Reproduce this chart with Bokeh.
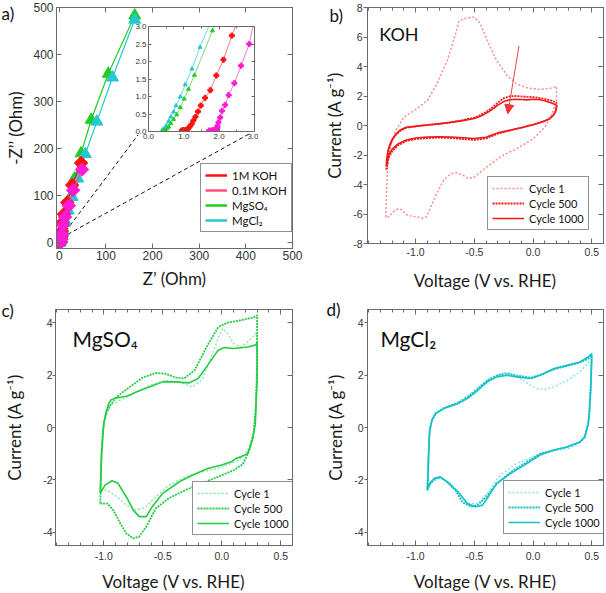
import numpy as np
from bokeh.plotting import figure
from bokeh.layouts import column, row
from bokeh.models import (Range1d, LinearAxis, SingleIntervalTicker, FixedTicker,
                          PrintfTickFormatter, Legend, LegendItem, Label, Arrow, NormalHead)
from bokeh.embed import file_html
from bokeh.resources import INLINE

# ---------------- data: panel a (Nyquist) ----------------
koh1_zre = [0.94, 0.99, 1.03, 1.08, 1.13, 1.16, 1.22, 1.27, 1.33, 1.40, 1.48, 1.60, 1.75, 1.92, 2.12, 2.36,
            3.6, 4.6, 5.6, 6.4, 10.0, 17.0, 27.5, 46.6]
koh1_zim = [0.03, 0.04, 0.03, 0.04, 0.10, 0.13, 0.21, 0.31, 0.42, 0.57, 0.74, 0.96, 1.18, 1.60, 2.05, 2.74,
            6, 12, 24, 42, 60, 85, 122, 169]
koh01_zre = [1.72, 1.79, 1.84, 1.89, 1.93, 1.95, 1.95, 1.98, 2.03, 2.08, 2.17, 2.27, 2.43, 2.62, 2.85,
             4.0, 5.5, 7.9, 12.2, 20.5, 29.7, 48.7]
koh01_zim = [0.03, 0.03, 0.04, 0.04, 0.06, 0.10, 0.16, 0.26, 0.40, 0.59, 0.76, 1.04, 1.38, 1.88, 2.50,
             8, 18, 37, 54, 78, 111, 155]
mgso4_zre = [0.42, 0.47, 0.52, 0.57, 0.63, 0.71, 0.80, 0.90, 1.01, 1.13, 1.30, 1.81, 2.6, 4.0, 7.0, 11, 17,
             24, 32.5, 46.6, 68.5, 105, 161.7]
mgso4_zim = [0.02, 0.04, 0.08, 0.13, 0.23, 0.35, 0.48, 0.69, 0.93, 1.21, 1.61, 2.88, 5, 10, 22, 42, 68,
             97, 136, 189.5, 261, 359, 483]
mgcl2_zre = [0.38, 0.42, 0.50, 0.57, 0.63, 0.71, 0.78, 0.90, 1.04, 1.23, 1.46, 2.2, 3.3, 5.5, 9, 13, 19,
             27.5, 39.5, 55.8, 80.5, 114, 161.7]
mgcl2_zim = [0.02, 0.07, 0.16, 0.29, 0.42, 0.56, 0.74, 0.99, 1.34, 1.79, 2.41, 4.2, 7, 13, 24, 45, 68,
             97, 136, 188, 257, 351, 474]
nyq_names = ["1M KOH", "0.1M KOH", "MgSO\u2084", "MgCl\u2082"]
zoom_line1_x = [5, 169]
zoom_line1_y = [12, 229]
zoom_line2_x = [5, 409]
zoom_line2_y = [10, 232]

# ---------------- data: panel b (KOH) ----------------
koh_c1_v = [-1.255, -1.246, -1.235, -1.21, -1.17, -1.1, -0.99, -0.9, -0.82, -0.73, -0.66, -0.63, -0.56,
            -0.5, -0.45, -0.39, -0.31, -0.22, -0.14, -0.05, 0.06, 0.15, 0.2,
            0.2, 0.17, 0.15, 0.1, 0.06, 0.0, -0.05, -0.14, -0.2, -0.28, -0.36, -0.45, -0.5, -0.55, -0.59,
            -0.65, -0.7, -0.76, -0.82, -0.87, -0.91, -0.94, -0.98, -1.03, -1.08, -1.12, -1.15, -1.19,
            -1.23, -1.255]
koh_c1_i = [-6.2, -4.2, -2.4, -1.25, -0.34, 0.56, 1.13, 1.69, 2.82, 4.4, 6.2, 7.1, 7.3,
            7.35, 6.9, 5.76, 4.4, 3.39, 2.82, 2.55, 2.44, 2.53, 2.64,
            1.7, 1.0, 0.56, -0.1, -0.45, -0.9, -1.15, -1.58, -1.8, -2.14, -2.6, -3.16, -3.5, -3.6, -3.4,
            -3.2, -3.27, -3.7, -4.6, -5.5, -6.2, -6.3, -6.2, -6.15, -6.05, -5.7, -5.65, -5.85,
            -6.2, -6.2]
koh_c500_v = [-1.25, -1.245, -1.235, -1.22, -1.2, -1.17, -1.13, -1.08, -1.0, -0.9, -0.8, -0.7, -0.6, -0.5,
              -0.45, -0.4, -0.35, -0.3, -0.25, -0.2, -0.15, -0.1, -0.05, 0.0, 0.05, 0.1, 0.15, 0.2,
              0.2, 0.19, 0.17, 0.14, 0.1, 0.05, 0.0, -0.1, -0.2, -0.3, -0.35, -0.4, -0.5, -0.6, -0.7,
              -0.8, -0.9, -1.0, -1.08, -1.15, -1.2, -1.23, -1.25]
koh_c500_i = [-3.0, -2.4, -1.85, -1.4, -1.0, -0.65, -0.35, -0.15, -0.05, 0.04, 0.12, 0.22, 0.36, 0.54,
              0.7, 0.92, 1.2, 1.55, 1.85, 1.98, 2.0, 1.97, 1.94, 1.93, 1.88, 1.8, 1.7, 1.55,
              1.3, 0.95, 0.68, 0.47, 0.32, 0.18, 0.06, -0.15, -0.34, -0.55, -0.72, -0.88, -0.98, -0.92,
              -0.85, -0.82, -0.85, -0.92, -1.05, -1.35, -1.75, -2.2, -3.0]
koh_c1000_v = [-1.25, -1.245, -1.235, -1.22, -1.2, -1.17, -1.13, -1.08, -1.0, -0.9, -0.8, -0.7, -0.6, -0.5,
               -0.45, -0.4, -0.35, -0.3, -0.25, -0.2, -0.15, -0.1, -0.05, 0.0, 0.05, 0.1, 0.15, 0.2,
               0.2, 0.19, 0.17, 0.14, 0.1, 0.05, 0.0, -0.1, -0.2, -0.3, -0.35, -0.4, -0.5, -0.6, -0.7,
               -0.8, -0.9, -1.0, -1.08, -1.15, -1.2, -1.23, -1.25]
koh_c1000_i = [-2.75, -2.2, -1.7, -1.3, -0.95, -0.6, -0.3, -0.12, -0.06, 0.03, 0.11, 0.21, 0.33, 0.48,
               0.62, 0.82, 1.08, 1.38, 1.62, 1.75, 1.78, 1.76, 1.74, 1.78, 1.76, 1.68, 1.55, 1.38,
               1.2, 0.9, 0.65, 0.45, 0.3, 0.17, 0.05, -0.15, -0.32, -0.5, -0.65, -0.8, -0.88, -0.83,
               -0.78, -0.76, -0.78, -0.85, -0.98, -1.25, -1.6, -2.0, -2.75]
arrow_v = [-0.12, -0.215]
arrow_i = [5.4, 0.8]

# ---------------- data: panel c (MgSO4) ----------------
mgso4_c1_v = [-1.03, -1.025, -1.02, -1.01, -1.0, -0.97, -0.945, -0.86, -0.75, -0.61, -0.475, -0.34, -0.25,
              -0.17, -0.09, -0.02, 0.01, 0.05, 0.1, 0.16, 0.22, 0.3,
              0.3, 0.29, 0.27, 0.22, 0.16, 0.08, -0.03, -0.17, -0.31, -0.45, -0.56, -0.64, -0.72, -0.81,
              -0.89, -0.97, -1.03]
mgso4_c1_i = [-2.4, -1.7, -1.0, -0.35, 0.15, 0.6, 0.85, 1.04, 1.3, 1.61, 1.8, 1.7, 1.55,
              1.8, 2.69, 3.52, 3.77, 3.58, 3.2, 3.07, 3.26, 3.64,
              2.0, 0.79, -0.23, -0.86, -1.18, -1.37, -1.56, -1.69, -1.88, -2.2, -2.64, -3.02, -3.15, -2.96,
              -2.64, -2.39, -2.4]
mgso4_c500_v = [-1.03, -1.025, -1.02, -1.01, -1.0, -0.98, -0.945, -0.89, -0.78, -0.67, -0.56, -0.475, -0.39,
                -0.32, -0.23, -0.12, -0.03, 0.05, 0.16, 0.27, 0.3,
                0.3, 0.29, 0.27, 0.24, 0.18, 0.1, -0.03, -0.17, -0.31, -0.45, -0.56, -0.64, -0.70, -0.75,
                -0.81, -0.86, -0.92, -0.97, -1.03]
mgso4_c500_i = [-2.9, -1.8, -1.0, -0.3, 0.2, 0.55, 0.85, 1.17, 1.55, 1.9, 2.08, 2.05, 1.9,
                1.87, 2.18, 3.14, 3.83, 4.0, 4.09, 4.2, 4.28,
                2.5, 0.8, -0.2, -0.8, -1.4, -1.63, -1.88, -2.13, -2.39, -2.7, -3.09, -3.78, -4.16, -4.23,
                -4.04, -3.66, -3.15, -2.9, -2.9]
mgso4_c1000_v = [-1.03, -1.025, -1.02, -1.01, -1.0, -0.98, -0.96, -0.94, -0.9, -0.85, -0.8, -0.72, -0.61,
                 -0.5, -0.39, -0.28, -0.2, -0.12, -0.03, 0.02, 0.1, 0.22, 0.29, 0.3,
                 0.3, 0.29, 0.285, 0.26, 0.22, 0.16, 0.12, 0.08, 0.0, -0.12, -0.25, -0.36, -0.5, -0.59,
                 -0.64, -0.70, -0.75, -0.81, -0.88, -0.93, -0.99, -1.03]
mgso4_c1000_i = [-2.5, -1.8, -1.12, -0.4, 0.15, 0.6, 0.9, 1.05, 1.13, 1.16, 1.2, 1.36, 1.55,
                 1.74, 1.74, 1.70, 1.87, 2.37, 2.95, 3.05, 3.01, 3.07, 3.15, 3.25,
                 2.0, 0.79, 0.15, -0.48, -1.0, -1.12, -1.18, -1.31, -1.43, -1.56, -1.82, -2.07, -2.51, -3.02,
                 -3.40, -3.4, -3.15, -2.64, -2.13, -2.03, -2.2, -2.5]

# ---------------- data: panel d (MgCl2) ----------------
mgcl2_c1_v = [-0.9, -0.895, -0.89, -0.885, -0.88, -0.86, -0.82, -0.75, -0.64, -0.56, -0.47, -0.39, -0.28,
              -0.19, -0.11, -0.02, 0.03, 0.1, 0.18, 0.29, 0.4, 0.5,
              0.495, 0.49, 0.48, 0.47, 0.44, 0.38, 0.3, 0.2, 0.1, 0.0, -0.14, -0.28, -0.39, -0.47, -0.55,
              -0.62, -0.7, -0.79, -0.86, -0.9]
mgcl2_c1_i = [-2.3, -1.7, -1.0, -0.4, 0.0, 0.32, 0.56, 0.75, 0.97, 1.2, 1.52, 1.8, 2.03,
              2.06, 1.87, 1.61, 1.49, 1.45, 1.55, 1.8, 2.12, 2.63,
              2.0, 1.42, 0.6, 0.1, -0.4, -0.65, -0.8, -0.86, -0.95, -1.12, -1.37, -1.82, -2.51, -2.9, -2.9,
              -2.58, -2.13, -1.94, -2.07, -2.32]
mgcl2_c500_v = [-0.9, -0.895, -0.89, -0.885, -0.88, -0.86, -0.83, -0.76, -0.64, -0.56, -0.47, -0.39, -0.3,
                -0.22, -0.14, -0.02, 0.06, 0.18, 0.29, 0.4, 0.47, 0.5,
                0.495, 0.49, 0.48, 0.47, 0.44, 0.4, 0.29, 0.18, 0.06, -0.05, -0.19, -0.31, -0.4, -0.47,
                -0.53, -0.6, -0.66, -0.74, -0.79, -0.84, -0.88, -0.9]
mgcl2_c500_i = [-2.4, -1.8, -1.1, -0.5, -0.1, 0.3, 0.55, 0.74, 0.94, 1.15, 1.48, 1.8, 2.0,
                2.07, 1.98, 1.9, 2.0, 2.22, 2.35, 2.48, 2.62, 2.75,
                2.0, 1.42, 0.6, 0.15, -0.36, -0.55, -0.74, -0.86, -1.0, -1.3, -1.7, -2.15, -2.65, -2.95,
                -3.02, -2.85, -2.4, -2.05, -1.9, -1.97, -2.18, -2.4]
mgcl2_c1000_v = [-0.9, -0.895, -0.89, -0.885, -0.88, -0.86, -0.83, -0.76, -0.64, -0.56, -0.47, -0.39, -0.31,
                 -0.22, -0.14, -0.02, 0.06, 0.18, 0.29, 0.4, 0.47, 0.5,
                 0.495, 0.49, 0.48, 0.47, 0.44, 0.4, 0.29, 0.18, 0.06, -0.05, -0.19, -0.31, -0.39, -0.43,
                 -0.49, -0.56, -0.64, -0.73, -0.79, -0.84, -0.88, -0.9]
mgcl2_c1000_i = [-2.36, -1.8, -1.12, -0.5, -0.1, 0.28, 0.53, 0.72, 0.91, 1.1, 1.42, 1.74, 1.93,
                 1.99, 1.93, 1.87, 1.99, 2.25, 2.37, 2.5, 2.69, 2.82,
                 2.0, 1.42, 0.6, 0.15, -0.36, -0.55, -0.74, -0.86, -1.05, -1.37, -1.75, -2.13, -2.7, -2.96,
                 -3.02, -2.9, -2.45, -2.07, -1.88, -1.94, -2.13, -2.36]

cycle_names = ["Cycle 1", "Cycle 500", "Cycle 1000"]
panel_letters = ["a)", "b)", "c)", "d)"]

# ---------------- styling ----------------
TF = "Lato"
NF = "Liberation Sans"
AXC = "#6a6a6a"
LBL = "#333333"


def make_fig(xr, yr, fw, fh, bl, br, bt, bb):
    p = figure(frame_width=fw, frame_height=fh, x_range=Range1d(*xr), y_range=Range1d(*yr),
               output_backend="svg", toolbar_location=None,
               min_border_left=bl, min_border_right=br, min_border_top=bt, min_border_bottom=bb)
    p.xgrid.visible = False
    p.ygrid.visible = False
    p.outline_line_color = AXC
    p.outline_line_width = 1
    p.border_fill_color = "white"
    p.background_fill_color = "white"
    return p


def tick_only_axis(ticker, tin, minor_in):
    return LinearAxis(ticker=ticker, major_label_text_font_size="1px", major_label_text_color=None,
                      major_label_standoff=0,
                      major_tick_in=tin, major_tick_out=0, minor_tick_in=minor_in, minor_tick_out=0,
                      axis_line_color=AXC, major_tick_line_color=AXC, minor_tick_line_color=AXC)


def style_axes(p, xt, yt, xfmt, yfmt, fs, xlabel, ylabel, xlstand, xstand, ylstand, ystand, ytick_out):
    xa = p.xaxis[0]
    ya = p.yaxis[0]
    xa.ticker = xt
    ya.ticker = yt
    xa.formatter = xfmt
    ya.formatter = yfmt
    for a in (xa, ya):
        a.axis_line_color = AXC
        a.major_tick_line_color = AXC
        a.minor_tick_line_color = AXC
        a.major_label_text_font = NF
        a.major_label_text_font_size = fs
        a.major_label_text_color = LBL
        a.axis_label_text_font = TF
        a.axis_label_text_font_style = "normal"
        a.axis_label_text_font_size = "17px"
        a.axis_label_text_color = "#1a1a1a"
    xa.major_tick_in = 5
    xa.major_tick_out = 0
    xa.minor_tick_in = 3
    xa.minor_tick_out = 0
    xa.major_label_standoff = xlstand
    ya.major_tick_in = 0 if ytick_out else 5
    ya.major_tick_out = ytick_out
    ya.minor_tick_in = 0
    ya.minor_tick_out = 0
    ya.major_label_standoff = ylstand
    xa.axis_label = xlabel
    ya.axis_label = ylabel
    xa.axis_label_standoff = xstand
    ya.axis_label_standoff = ystand
    p.add_layout(tick_only_axis(xt, 5, 3), "above")
    p.add_layout(tick_only_axis(yt, 5, 0), "right")


LETTER_SHIFT = 21  # internal left offset of the title inside the small letter figures


def letter_fig(txt, left, top):
    f = figure(width=60, height=30, title=txt, x_range=Range1d(0, 1), y_range=Range1d(0, 1),
               x_axis_type=None, y_axis_type=None, output_backend="svg", toolbar_location=None,
               min_border=0)
    f.xgrid.visible = False
    f.ygrid.visible = False
    f.outline_line_color = None
    f.background_fill_color = None
    f.border_fill_color = None
    f.title.text_font = TF
    f.title.text_font_size = "17px"
    f.title.text_font_style = "normal"
    f.title.text_color = "#111111"
    f.title.standoff = 0
    f.title.offset = 0
    f.title.align = "left"
    f.styles = {"position": "absolute", "left": f"{left - LETTER_SHIFT}px", "top": f"{top}px"}
    return f


def make_legend(p, items, loc, fs="11px", gw=32):
    lg = Legend(items=items, location=loc, margin=0, padding=4, spacing=1,
                label_text_font=TF, label_text_font_size=fs, label_text_color="#111111",
                label_height=14, glyph_height=14, glyph_width=gw, label_standoff=5,
                border_line_color="#222222", border_line_width=1, background_fill_alpha=1.0)
    p.add_layout(lg)


# ---------------- panel a ----------------
RED = "#ff1010"
PINK_L = "#ff4f7e"
MAG = "#ff1ad5"
GRN = "#22cc22"
CYN = "#22c8d2"

pa = make_fig((-6, 500), (-13, 500), 236, 241, 56, 11, 7, 46)
style_axes(pa, SingleIntervalTicker(interval=100, num_minor_ticks=0),
           SingleIntervalTicker(interval=100, num_minor_ticks=0),
           PrintfTickFormatter(format="%d"), PrintfTickFormatter(format="%d"), "12px",
           "Z\u2019 (Ohm)", "-Z\u2019\u2019 (Ohm)", 2, 5, 3, 4, 0)
pa.line(zoom_line1_x, zoom_line1_y, line_color="#111111", line_dash="4 3", line_width=1)
pa.line(zoom_line2_x, zoom_line2_y, line_color="#111111", line_dash="4 3", line_width=1)
pa.line(mgso4_zre, mgso4_zim, line_color=GRN, line_width=1.2)
pa.scatter(mgso4_zre, mgso4_zim, marker="triangle", size=12, fill_color=GRN, line_color=GRN)
pa.line(mgcl2_zre, mgcl2_zim, line_color=CYN, line_width=1.2)
pa.scatter(mgcl2_zre, mgcl2_zim, marker="triangle", size=12, fill_color=CYN, line_color=CYN)
pa.line(koh1_zre, koh1_zim, line_color=RED, line_width=1.2)
pa.scatter(koh1_zre, koh1_zim, marker="square", angle=np.pi / 4, size=9.5, fill_color=RED, line_color=RED)
pa.line(koh01_zre, koh01_zim, line_color=PINK_L, line_width=1.2)
pa.scatter(koh01_zre, koh01_zim, marker="square", angle=np.pi / 4, size=9.5, fill_color=MAG, line_color=MAG)
leg_a = []
for nm, col in zip(nyq_names, [RED, PINK_L, GRN, CYN]):
    rr = pa.line([np.nan], [np.nan], line_color=col, line_width=2.5)
    leg_a.append(LegendItem(label=nm, renderers=[rr]))
make_legend(pa, leg_a, (144, 16), fs="11.5px", gw=22)

# inset
ins = figure(frame_width=106, frame_height=105, x_range=Range1d(0, 3), y_range=Range1d(0, 3),
             output_backend="svg", toolbar_location=None,
             min_border_left=20, min_border_right=4, min_border_top=4, min_border_bottom=14)
ins.xgrid.visible = False
ins.ygrid.visible = False
ins.outline_line_color = AXC
ins.border_fill_color = None
ins.background_fill_color = "white"
for a in (ins.xaxis[0], ins.yaxis[0]):
    a.axis_line_color = AXC
    a.major_tick_line_color = AXC
    a.minor_tick_line_color = AXC
    a.major_label_text_font = NF
    a.major_label_text_font_size = "8px"
    a.major_label_text_color = LBL
    a.major_tick_in = 3
    a.major_tick_out = 0
    a.minor_tick_in = 2
    a.minor_tick_out = 0
    a.major_label_standoff = 2
    a.formatter = PrintfTickFormatter(format="%.1f")
ins.xaxis[0].ticker = FixedTicker(ticks=[0, 1, 2, 3], minor_ticks=[0.5, 1.5, 2.5])
ins.yaxis[0].ticker = SingleIntervalTicker(interval=0.5, num_minor_ticks=0)
ins.add_layout(tick_only_axis(FixedTicker(ticks=[0, 1, 2, 3], minor_ticks=[0.5, 1.5, 2.5]), 3, 2), "above")
ins.add_layout(tick_only_axis(SingleIntervalTicker(interval=0.5, num_minor_ticks=0), 3, 0), "right")
ins.line(mgcl2_zre, mgcl2_zim, line_color="#66dde2", line_width=1)
ins.scatter(mgcl2_zre, mgcl2_zim, marker="triangle", size=4, fill_color=CYN, line_color=CYN)
ins.line(mgso4_zre, mgso4_zim, line_color="#77dd77", line_width=1)
ins.scatter(mgso4_zre, mgso4_zim, marker="triangle", size=4, fill_color=GRN, line_color=GRN)
ins.line(koh1_zre, koh1_zim, line_color="#ff7a7a", line_width=1)
ins.scatter(koh1_zre, koh1_zim, marker="plus", size=5, fill_color=RED, line_color=RED)
ins.line(koh01_zre, koh01_zim, line_color="#ff7ab8", line_width=1)
ins.scatter(koh01_zre, koh01_zim, marker="plus", size=5, fill_color=MAG, line_color=MAG)
ins.styles = {"position": "absolute", "left": "128px", "top": "22px"}


# ---------------- CV panels ----------------
def cv_panel(loops, colors, dashes, widths, yr, fw, fh, bl, br, bt, bb, ax):
    p = make_fig((-1.41, 0.6), yr, fw, fh, bl, br, bt, bb)
    style_axes(p, SingleIntervalTicker(interval=0.5, num_minor_ticks=5),
               SingleIntervalTicker(interval=2, num_minor_ticks=0),
               PrintfTickFormatter(format="%.1f"), PrintfTickFormatter(format="%d"), "10.5px",
               "Voltage (V vs. RHE)", "Current (A g\u207b\u00b9)", *ax)
    items = []
    for (v, i), c, d, wd, nm in zip(loops, colors, dashes, widths, cycle_names):
        r = p.line(v, i, line_color=c, line_dash=d, line_width=wd)
        items.append(LegendItem(label=nm, renderers=[r]))
    return p, items


pb, items_b = cv_panel([(koh_c1_v, koh_c1_i), (koh_c500_v, koh_c500_i), (koh_c1000_v, koh_c1000_i)],
                       ["#ff8585", "#f21818", "#f21818"], ["2 2", "2 1", "solid"], [1.4, 1.8, 1.6],
                       (-8, 8), 236, 236, 64, 3, 7, 51, (4, 11, 1, 5, 4))
pb.add_layout(Arrow(end=NormalHead(size=9, fill_color="#f23030", line_color="#f23030"),
                    x_start=arrow_v[0], y_start=arrow_i[0], x_end=arrow_v[1], y_end=arrow_i[1],
                    line_color="#f24040", line_width=1))
pb.add_layout(Label(x=-1.31, y=6.2, text="KOH", text_font=TF, text_font_size="18px",
                    text_color="#111111", text_baseline="alphabetic"))
make_legend(pb, items_b, (120, 13))

pc, items_c = cv_panel([(mgso4_c1_v, mgso4_c1_i), (mgso4_c500_v, mgso4_c500_i),
                        (mgso4_c1000_v, mgso4_c1000_i)],
                       ["#86e8a0", "#22cc44", "#22cc44"], ["2 2", "2 1", "solid"], [1.4, 1.8, 1.6],
                       (-4.5, 4.5), 237, 236, 55, 11, 15, 47, (6, 8, 0, 15, 3))
pc.add_layout(Label(x=-1.265, y=3.39, text="MgSO\u2084", text_font=TF, text_font_size="21px",
                    text_color="#111111", text_baseline="alphabetic"))
make_legend(pc, items_c, (137, 10))

pd_, items_d = cv_panel([(mgcl2_c1_v, mgcl2_c1_i), (mgcl2_c500_v, mgcl2_c500_i),
                         (mgcl2_c1000_v, mgcl2_c1000_i)],
                        ["#86e0e6", "#12c0c8", "#12c0c8"], ["2 2", "2 1", "solid"], [1.4, 1.8, 1.6],
                        (-4.5, 4.5), 236, 236, 64, 3, 15, 47, (6, 8, 1, 5, 3))
pd_.add_layout(Label(x=-1.3, y=3.39, text="MgCl\u2082", text_font=TF, text_font_size="21px",
                     text_color="#111111", text_baseline="alphabetic"))
make_legend(pd_, items_d, (136, 11))

letters = [letter_fig(panel_letters[0], 2, 0), letter_fig(panel_letters[1], 330, 2),
           letter_fig(panel_letters[2], 2, 297), letter_fig(panel_letters[3], 327, 296)]

root = column(row(pa, pb), row(pc, pd_), ins, *letters)
open("out.html", "w").write(file_html(root, INLINE))
